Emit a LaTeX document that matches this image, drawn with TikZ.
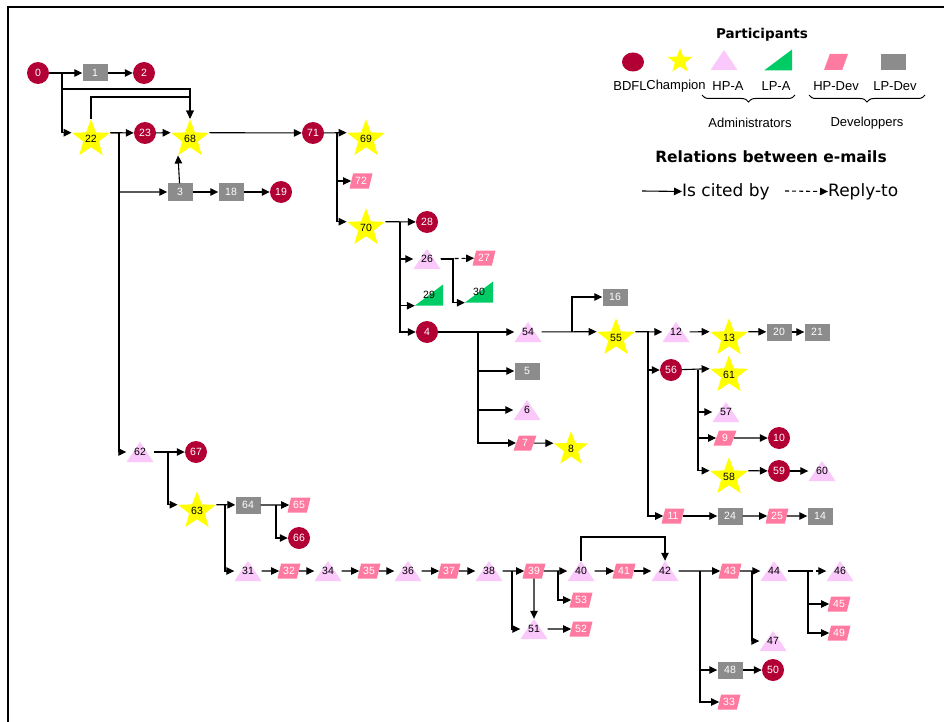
\documentclass[tikz,border=0pt]{standalone}
\usepackage{fontspec}
\setmainfont{Liberation Sans}
\newfontfamily\headfont{DejaVu Sans}
\usetikzlibrary{shapes.geometric,arrows.meta,decorations.pathreplacing}
\definecolor{bdflred}{RGB}{178,0,52}
\definecolor{champyellow}{RGB}{255,255,0}
\definecolor{hpapink}{RGB}{250,200,250}
\definecolor{lpagreen}{RGB}{0,204,102}
\definecolor{hpdevpink}{RGB}{255,122,160}
\definecolor{lpdevgray}{RGB}{140,140,140}
\begin{document}
\begin{tikzpicture}[x=1pt,y=-1pt,
        every node/.style={inner sep=0pt,font=\fontsize{10.5}{10.5}\selectfont},
        bdfl/.style={circle,fill=bdflred,text=white,minimum size=22pt},
        champion/.style={star,star points=5,star point ratio=2.4,fill=champyellow,minimum size=36pt},
        hpa/.style={rectangle,minimum width=27pt,minimum height=20pt,
          path picture={\fill[hpapink] (path picture bounding box.south west) -- (path picture bounding box.south east) -- (path picture bounding box.north) -- cycle;}},
        lpa/.style={rectangle,minimum width=28pt,minimum height=21pt,
          path picture={\fill[lpagreen] (path picture bounding box.south west) -- (path picture bounding box.south east) -- (path picture bounding box.north east) -- cycle;}},
        hpdev/.style={trapezium,trapezium left angle=70,trapezium right angle=110,trapezium stretches=true,fill=hpdevpink,text=white,minimum width=23pt,minimum height=15pt},
        lpdev/.style={rectangle,fill=lpdevgray,text=white,minimum width=25pt,minimum height=17pt},
        cite/.style={line width=1.1pt,-{Triangle[length=8pt,width=7.5pt]}},
        reply/.style={cite,dash pattern=on 4pt off 3pt},
        legtext/.style={font=\fontsize{13}{13}\selectfont},
        headtext/.style={font=\headfont\bfseries\fontsize{13.5}{13.5}\selectfont}]
        \useasboundingbox (0,0) rectangle (944,722);
        \draw[line width=2pt] (8,722) -- (8,7) -- (944,7);

        \node[bdfl] (e0) at (38,73) {0};
        \node[lpdev] (e1) at (95,73) {1};
        \node[bdfl] (e2) at (144,73) {2};
        \node[champion] (e22) at (91,139) {22};
        \node[bdfl] (e23) at (145,133) {23};
        \node[champion] (e68) at (190,139) {68};
        \node[bdfl] (e71) at (313,133) {71};
        \node[lpdev] (e3) at (180,192) {3};
        \node[lpdev] (e18) at (231,192) {18};
        \node[bdfl] (e19) at (281,192) {19};
        \node[champion] (e69) at (366,139) {69};
        \node[hpdev] (e72) at (361,181) {72};
        \node[champion] (e70) at (366,228) {70};
        \node[bdfl] (e28) at (427,222) {28};
        \node[hpa] (e26) at (427,259) {26};
        \node[hpdev] (e27) at (484,258) {27};
        \node[lpa] (e29) at (429,295) {29};
        \node[lpa] (e30) at (479,292) {30};
        \node[bdfl] (e4) at (427,332) {4};
        \node[hpa] (e54) at (528,332) {54};
        \node[lpdev] (e16) at (615,297) {16};
        \node[champion] (e55) at (616,338) {55};
        \node[hpa] (e12) at (676,332) {12};
        \node[champion] (e13) at (729,338) {13};
        \node[lpdev] (e20) at (779,332) {20};
        \node[lpdev] (e21) at (817,332) {21};
        \node[bdfl] (e56) at (671,370) {56};
        \node[champion] (e61) at (729,375) {61};
        \node[hpa] (e57) at (726,412) {57};
        \node[hpdev] (e9) at (725,438) {9};
        \node[bdfl] (e10) at (779,438) {10};
        \node[champion] (e58) at (729,477) {58};
        \node[bdfl] (e59) at (779,471) {59};
        \node[hpa] (e60) at (822,471) {60};
        \node[hpdev] (e11) at (673,516) {11};
        \node[lpdev] (e24) at (730,516) {24};
        \node[hpdev] (e25) at (777,516) {25};
        \node[lpdev] (e14) at (820,516) {14};
        \node[lpdev] (e5) at (527,371) {5};
        \node[hpa] (e6) at (527,410) {6};
        \node[hpdev] (e7) at (525,443) {7};
        \node[champion] (e8) at (571,449) {8};
        \node[hpa] (e62) at (140,452) {62};
        \node[bdfl] (e67) at (196,452) {67};
        \node[champion] (e63) at (197,511) {63};
        \node[lpdev] (e64) at (248,505) {64};
        \node[hpdev] (e65) at (299,505) {65};
        \node[bdfl] (e66) at (299,538) {66};
        \node[hpa] (e31) at (248,571) {31};
        \node[hpdev] (e32) at (289,571) {32};
        \node[hpa] (e34) at (328,571) {34};
        \node[hpdev] (e35) at (369,571) {35};
        \node[hpa] (e36) at (408,571) {36};
        \node[hpdev] (e37) at (449,571) {37};
        \node[hpa] (e38) at (489,571) {38};
        \node[hpdev] (e39) at (534,571) {39};
        \node[hpa] (e40) at (581,571) {40};
        \node[hpdev] (e41) at (624,571) {41};
        \node[hpa] (e42) at (665,571) {42};
        \node[hpdev] (e53) at (581,600) {53};
        \node[hpa] (e51) at (534,629) {51};
        \node[hpdev] (e52) at (581,629) {52};
        \node[hpdev] (e43) at (730,571) {43};
        \node[hpa] (e44) at (774,571) {44};
        \node[hpa] (e46) at (840,571) {46};
        \node[hpdev] (e45) at (839,604) {45};
        \node[hpdev] (e49) at (839,633) {49};
        \node[hpa] (e47) at (773,641) {47};
        \node[lpdev] (e48) at (730,670) {48};
        \node[bdfl] (e50) at (773,670) {50};
        \node[hpdev] (e33) at (729,702) {33};

        \coordinate (j0) at (62,73);
        \coordinate (t68a) at (190,89);
        \coordinate (t68b) at (190,97);
        \coordinate (j22) at (119,133);
        \coordinate (j71) at (337,133);
        \coordinate (j70) at (400,222);
        \coordinate (j26) at (453,259);
        \coordinate (j4) at (478,332);
        \coordinate (j54) at (572,332);
        \coordinate (j55) at (648,332);
        \coordinate (j56) at (698,370);
        \coordinate (j62) at (168,452);
        \coordinate (j63) at (225,505);
        \coordinate (j64) at (276,505);
        \coordinate (j38) at (512,571);
        \coordinate (j39) at (558,571);
        \coordinate (t42) at (665,537);
        \coordinate (j42) at (700,571);
        \coordinate (j43) at (752,571);
        \coordinate (j44) at (808,571);

        \draw[cite] (e0) -- (e1);
        \draw[cite] (e1) -- (e2);
        \draw[cite] (e0) -- (j0) |- (e22.outer point 2);
        \draw[cite] (j0) |- (t68a) -- (e68.outer point 1);
        \draw[cite] (e22.outer point 1) |- (t68b) -- (e68.outer point 1);
        \draw[cite] (e22.outer point 5) -- (e23);
        \draw[cite] (e23) -- (e68.outer point 2);
        \draw[cite] (e22.outer point 5) -- (j22) |- (e3);
        \draw[cite] (j22) |- (e62);
        \draw[cite] (e3) -- (e68.outer point 3);
        \draw[cite] (e3) -- (e18);
        \draw[cite] (e18) -- (e19);
        \draw[cite] (e68.outer point 5) -- (e71);
        \draw[cite] (e71) -- (e69.outer point 2);
        \draw[cite] (j71) |- (e72);
        \draw[cite] (j71) |- (e70.outer point 2);
        \draw[cite] (e70.outer point 5) -- (e28);
        \draw[cite] (j70) |- (e26);
        \draw[cite] (j70) |- (e29.south west);
        \draw[cite] (j70) |- (e4);
        \draw[reply] (e26) -- (e27);
        \draw[cite] (e26) -- (j26) |- (e30.south west);
        \draw[cite] (e4) -- (e54);
        \draw[cite] (j4) |- (e5);
        \draw[cite] (j4) |- (e6);
        \draw[cite] (j4) |- (e7);
        \draw[cite] (e7) -- (e8.outer point 2);
        \draw[cite] (e54) -- (e55.outer point 2);
        \draw[cite] (j54) |- (e16);
        \draw[cite] (e55.outer point 5) -- (e12);
        \draw[cite] (j55) |- (e56);
        \draw[cite] (j55) |- (e11);
        \draw[cite] (e12) -- (e13.outer point 2);
        \draw[cite] (e13.outer point 5) -- (e20);
        \draw[cite] (e20) -- (e21);
        \draw[cite] (e56) -- (e61.outer point 2);
        \draw[cite] (j56) |- (e57);
        \draw[cite] (j56) |- (e9);
        \draw[cite] (j56) |- (e58.outer point 2);
        \draw[cite] (e9) -- (e10);
        \draw[cite] (e58.outer point 5) -- (e59);
        \draw[cite] (e59) -- (e60);
        \draw[cite] (e11) -- (e24);
        \draw[cite] (e24) -- (e25);
        \draw[cite] (e25) -- (e14);
        \draw[cite] (e62) -- (e67);
        \draw[cite] (j62) |- (e63.outer point 2);
        \draw[cite] (e63.outer point 5) -- (e64);
        \draw[cite] (j63) |- (e31);
        \draw[cite] (e64) -- (e65);
        \draw[cite] (j64) |- (e66);
        \draw[cite] (e31) -- (e32);
        \draw[cite] (e32) -- (e34);
        \draw[cite] (e34) -- (e35);
        \draw[cite] (e35) -- (e36);
        \draw[cite] (e36) -- (e37);
        \draw[cite] (e37) -- (e38);
        \draw[cite] (e38) -- (e39);
        \draw[cite] (j38) |- (e51);
        \draw[cite] (e39) -- (e51);
        \draw[cite] (e39) -- (e40);
        \draw[cite] (j39) |- (e53);
        \draw[cite] (e51) -- (e52);
        \draw[cite] (e40) -- (e41);
        \draw[cite] (e41) -- (e42);
        \draw[cite] (e40) |- (t42) -- (e42);
        \draw[cite] (e42) -- (e43);
        \draw[cite] (j42) |- (e48);
        \draw[cite] (j42) |- (e33);
        \draw[cite] (e48) -- (e50);
        \draw[cite] (e43) -- (e44);
        \draw[cite] (j43) |- (e47);
        \draw[reply] (e44) -- (e46);
        \draw[cite] (e44) -- (j44) |- (e45);
        \draw[cite] (j44) |- (e49);

        \node[headtext] (parts) at (762,35) {Participants};
        \node[bdfl,ellipse,minimum width=22pt,minimum height=19pt] (kbdfl) at (633,62) {};
        \node[champion,minimum size=26pt] (kchamp) at (680,61) {\phantom{0}};
        \node[hpa] (khpa) at (724,60) {};
        \node[lpa] (klpa) at (778,60) {};
        \node[hpdev,minimum width=24pt,minimum height=16pt] (khpdev) at (836,62) {\phantom{0}};
        \node[lpdev,minimum height=16pt] (klpdev) at (893,62) {};
        \node[legtext] (lbdfl) at (630,86) {BDFL};
        \node[legtext] (lchamp) at (676,86) {Champion};
        \node[legtext] (lhpa) at (728,86) {HP-A};
        \node[legtext] (llpa) at (776,86) {LP-A};
        \node[legtext] (lhpdev) at (836,86) {HP-Dev};
        \node[legtext] (llpdev) at (895,86) {LP-Dev};
        \draw[line width=1pt,decorate,decoration={brace,mirror,amplitude=7pt}] (702,95) -- (795,95);
        \draw[line width=1pt,decorate,decoration={brace,mirror,amplitude=7pt}] (809,95) -- (925,95);
        \node[legtext] (admins) at (750,123) {Administrators};
        \node[legtext] (devs) at (867,123) {Developpers};
        \node[headtext,font=\headfont\bfseries\fontsize{15.5}{15.5}\selectfont] (rels) at (771,157) {Relations between e-mails};
        \node[font=\headfont\fontsize{17}{17}\selectfont,anchor=west] (cited) at (682,192) {Is cited by};
        \node[font=\headfont\fontsize{17}{17}\selectfont,anchor=west] (replyto) at (828,192) {Reply-to};
        \coordinate (ca) at (642,191);
        \coordinate (ra) at (785,191);
        \draw[cite] (ca) -- (cited);
        \draw[reply] (ra) -- (replyto);
        \end{tikzpicture}
\end{document}
